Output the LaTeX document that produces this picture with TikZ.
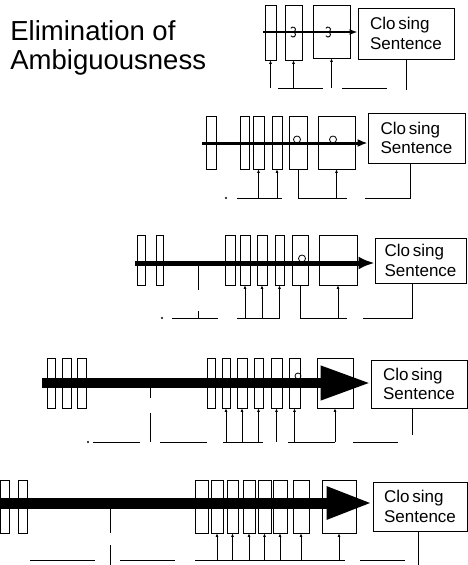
\documentclass[tikz,border=0pt]{standalone}
\usepackage{fontspec}
\setmainfont{Liberation Sans}
\usetikzlibrary{arrows.meta}
% one upright slat: name, left, right, top, bottom (pixel units)
\newcommand*{\slat}[5]{%
  \node[slat,minimum width={(#3)-(#2)},minimum height={(#5)-(#4)}]
    (#1) at ({((#2)+(#3))/2},{((#4)+(#5))/2}) {};}

\begin{document}
\begin{tikzpicture}[
        x=1pt,y=-1pt,
        line width=0.8pt,
        slat/.style={draw,inner sep=0pt},
        closing/.style={
          draw,align=left,inner sep=0pt,
          font=\fontsize{17}{19.5}\selectfont
        },
        title/.style={inner sep=0pt,font=\fontsize{27.5}{29}\selectfont},
        tick/.style={{Latex[length=3.5pt,width=3pt]}-},
        dot/.style={fill,radius=1.1pt},
        squiggle/.style={line width=0.9pt},
      ]
      \useasboundingbox (0,0) rectangle (468,565);

      \node[title,anchor=base west] (ttl1) at (10,40) {Elimination of};
      \node[title,anchor=base west] (ttl2) at (10,69) {Ambiguousness};

      % row 1
      \slat{a1}{265}{276}{5}{60}
      \slat{a2}{285}{302}{5}{60}
      \slat{a3}{313}{350}{5}{58}
      \node[closing,minimum width=96pt,minimum height=51pt] (c1) at (406,33.5) {Clo\,sing\\Sentence};
      \coordinate (s1) at (263,32);
      \draw[line width=2.5pt,-{Latex[length=8pt,width=6pt]}] (s1) -- (s1 -| c1.west);
      \foreach \u in {293,328}
        \draw[squiggle] (\u-2.2,28.3) arc[start angle=-150,end angle=90,radius=2.5]
          arc[start angle=-90,end angle=150,radius=2.5];
      \draw[tick] (a1.south) -- ++(0,28);
      \draw[tick] (a2.south) -- ++(0,28);
      \draw[tick] (a3.south) -- ++(0,30);
      \draw (c1.south) -- ++(0,31);
      \draw (278,88) -- (323,88);
      \draw (342,88) -- (387,88);

      % row 2
      \slat{b1}{206}{216}{116}{169}
      \slat{b2}{240}{249}{116}{169}
      \slat{b3}{253}{264}{116}{169}
      \slat{b4}{272}{282}{116}{169}
      \slat{b5}{289}{307}{116}{169}
      \slat{b6}{318}{355}{116}{169}
      \node[closing,minimum width=97pt,minimum height=50pt] (c2) at (416.5,138) {Clo\,sing\\Sentence};
      \coordinate (s2) at (202,143);
      \draw (297,139.5) circle[radius=3.5];
      \draw (333,139.5) circle[radius=3.5];
      \draw[line width=3pt,-{Latex[length=10pt,width=8pt]}] (s2) -- (s2 -| c2.west);
      \fill[dot] (226,198) circle;
      \draw (237,198) -- (282,198);
      \draw[tick] (b3.south) -- ++(0,29);
      \draw[tick] (b4.south) -- ++(0,29);
      \draw (b5.south) |- (347,198);
      \draw[tick] (b6.south) -- ++(0,29);
      \draw (365,198) -| ([xshift=-6pt]c2.south);

      % row 3
      \slat{d1}{137}{145}{235}{285}
      \slat{d2}{156}{163}{235}{285}
      \slat{d3}{225}{235}{235}{285}
      \slat{d4}{240}{250}{235}{285}
      \slat{d5}{257}{267}{235}{285}
      \slat{d6}{275}{284}{235}{285}
      \slat{d7}{292}{308}{235}{285}
      \slat{d8}{319}{357}{235}{285}
      \node[closing,minimum width=91pt,minimum height=45pt] (c3) at (420.5,260.5) {Clo\,sing\\Sentence};
      \coordinate (s3) at (135,263);
      \coordinate (m3) at (198,263);
      \draw (302,258.5) circle[radius=3.5];
      \draw[line width=5pt,-{Latex[length=16pt,width=13pt]}] (s3) -- (s3 -| c3.west);
      \draw (m3) -- ++(0,27);
      \draw (198,311) -- (198,318);
      \fill[dot] (162,318) circle;
      \draw (172,318) -- (218,318);
      \draw (237,318) -- (280,318);
      \draw[tick] (d4.south) -- ++(0,33);
      \draw[tick] (d5.south) -- ++(0,33);
      \draw[tick] (d6.south) -- ++(0,33);
      \draw (d7.south) |- (347,318);
      \draw[tick] (d8.south) -- ++(0,33);
      \draw (363,318) -| ([xshift=-8pt]c3.south);

      % row 4
      \slat{e1}{47}{55}{358}{408}
      \slat{e2}{62}{71}{358}{408}
      \slat{e3}{77}{86}{358}{408}
      \slat{e4}{207}{215}{358}{408}
      \slat{e5}{222}{230}{358}{408}
      \slat{e6}{237}{247}{358}{408}
      \slat{e7}{254}{263}{358}{408}
      \slat{e8}{271}{282}{358}{408}
      \slat{e9}{289}{300}{358}{408}
      \slat{e10}{317}{353}{358}{408}
      \node[closing,minimum width=96pt,minimum height=48pt] (c4) at (419,384) {Clo\,sing\\Sentence};
      \coordinate (s4) at (42,383);
      \coordinate (m4) at (150,383);
      \draw (298,376) circle[radius=3];
      \draw[line width=10pt,-{Triangle[length=50pt,width=32pt]}] (s4) -- (s4 -| c4.west);
      \draw (m4) -- ++(0,15);
      \draw (150,413) -- (150,442);
      \fill[dot] (88,442) circle;
      \draw (93,442) -- (140,442);
      \draw (160,442) -- (207,442);
      \draw (223,442) -- (263,442);
      \foreach \e in {e5,e6,e7,e8,e9,e10}
        \draw[tick] (\e.south) -- ++(0,34);
      \draw (288,442) -- (335,442);
      \draw (353,442) -- (398,442);
      \draw ([xshift=-7pt]c4.south) -- ++(0,27);

      % row 5
      \slat{f1}{0.5}{9}{480}{533}
      \slat{f2}{18}{27}{480}{533}
      \slat{f3}{195}{208}{480}{533}
      \slat{f4}{211}{223}{480}{533}
      \slat{f5}{227}{238}{480}{533}
      \slat{f6}{243}{255}{480}{533}
      \slat{f7}{258}{271}{480}{533}
      \slat{f8}{273}{287}{480}{533}
      \slat{f9}{293}{309}{480}{533}
      \slat{f10}{322}{356}{480}{533}
      \node[closing,minimum width=94pt,minimum height=49pt] (c5) at (420,506.5) {Clo\,sing\\Sentence};
      \coordinate (s5) at (0,503);
      \coordinate (m5) at (110,503);
      \draw[line width=11pt,-{Triangle[length=46pt,width=30pt]}] (s5) -- (s5 -| c5.west);
      \draw (m5) -- ++(0,30);
      \draw (110,545) -- (110,565);
      \draw (30,560) -- (95,560);
      \draw (120,560) -- (175,560);
      \draw (195,560) -- (345,560);
      \foreach \f in {f4,f5,f6,f7,f8,f9,f10}
        \draw[tick] (\f.south) -- ++(0,27);
      \draw (360,560) -- (405,560);
      \draw ([xshift=-2pt]c5.south) -- ++(0,34);
    \end{tikzpicture}
\end{document}
